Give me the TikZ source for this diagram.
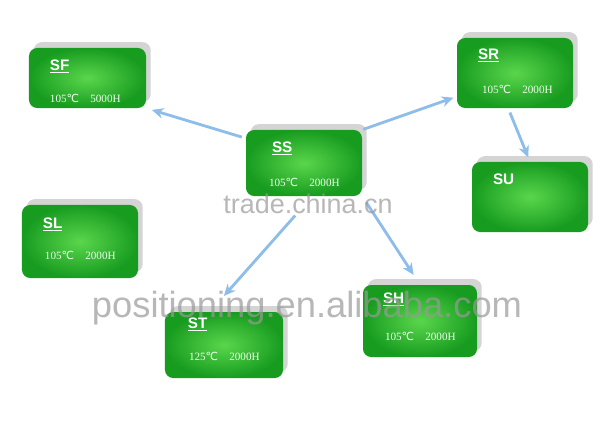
\documentclass[tikz,border=0pt]{standalone}
\usepackage{fontspec}
\setmainfont{Liberation Serif}
\setsansfont{Liberation Sans}
\newfontfamily\degfont{DejaVu Sans}
\usetikzlibrary{shadows,arrows.meta}
\definecolor{boxlight}{HTML}{5AD64C}
\definecolor{boxdark}{HTML}{189C20}
\definecolor{arrowblue}{HTML}{8DBDE8}
\newcommand{\degC}{{\degfont ℃}}

\begin{document}
\begin{tikzpicture}[x=0.03cm, y=-0.03cm,
                    box/.style={rectangle, rounded corners=7pt, minimum width=3.48cm, minimum height=1.98cm,
                                inner color=boxlight, outer color=boxdark,
                                drop shadow={shadow xshift=4pt, shadow yshift=5pt, fill=black!17, opacity=1}},
                    tag/.style={anchor=west, inner sep=0pt, text=white, font=\sffamily\bfseries\fontsize{13}{13}\selectfont},
                    spec/.style={anchor=west, inner sep=0pt, text=green!6, font=\fontsize{9.5}{9.5}\selectfont},
                    stamp/.style={text=black!40, opacity=0.7, inner sep=0pt, anchor=base},
                    every edge/.style={draw, line width=2.4pt, arrowblue, -{Stealth[length=10pt, width=9pt]}}]

                    \fill[white] (0,0) rectangle (615,423);
                    \useasboundingbox (0,0) rectangle (615,423);

                    % Define boxes
                    \node[box, minimum width=3.51cm, minimum height=1.8cm] (SF) at (87.5,78) {}; % upper left
                    \node[box] (SS) at (304,163) {}; % centre
                    \node[box, minimum height=2.1cm] (SR) at (515,73) {}; % upper right
                    \node[box, minimum height=2.1cm] (SU) at (530,197) {}; % below SR
                    \node[box, minimum height=2.19cm] (SL) at (80,241.5) {}; % left
                    \node[box, minimum width=3.54cm] (ST) at (224,345) {}; % lower left
                    \node[box, minimum width=3.42cm, minimum height=2.16cm] (SH) at (420,321) {}; % lower right

                    % Define texts
                    \node[tag] (SFtag) at ([shift={(21,19)}]SF.north west) {\underline{SF}};
                    \node[spec] (SFspec) at ([shift={(21,51)}]SF.north west) {105\degC\quad 5000H};
                    \node[tag] (SStag) at ([shift={(26,19)}]SS.north west) {\underline{SS}};
                    \node[spec] (SSspec) at ([shift={(23,53)}]SS.north west) {105\degC\quad 2000H};
                    \node[tag] (SRtag) at ([shift={(21,18)}]SR.north west) {\underline{SR}};
                    \node[spec] (SRspec) at ([shift={(25,52)}]SR.north west) {105\degC\quad 2000H};
                    \node[tag] (SUtag) at ([shift={(21,17)}]SU.north west) {SU};
                    \node[tag] (SLtag) at ([shift={(21,20)}]SL.north west) {\underline{SL}};
                    \node[spec] (SLspec) at ([shift={(23,51)}]SL.north west) {105\degC\quad 2000H};
                    \node[tag] (STtag) at ([shift={(23,13)}]ST.north west) {\underline{ST}};
                    \node[spec] (STspec) at ([shift={(24,45)}]ST.north west) {125\degC\quad 2000H};
                    \node[tag] (SHtag) at ([shift={(20,15)}]SH.north west) {\underline{SH}};
                    \node[spec] (SHspec) at ([shift={(22,52)}]SH.north west) {105\degC\quad 2000H};

                    % Define edges
                    \path (SS.157) edge[shorten <=3.5pt, shorten >=5pt] (SF.south east);
                    \path (SS.north east) edge[shorten <=1pt, shorten >=3pt] (SR.202);
                    \path (SR.259) edge[shorten <=4pt, shorten >=4pt] (SU.north);
                    \path (SS.284) edge[shorten <=22pt, shorten >=18pt] (ST.113);
                    \path (SS.south east) edge[shorten <=6pt, shorten >=10pt] (SH.north);

                    % Watermarks
                    \node[stamp, font=\sffamily\fontsize{23}{23}\selectfont] (wmtop) at (308,213) {trade.china.cn};
                    \node[stamp, font=\sffamily\fontsize{31}{31}\selectfont] (wmbottom) at (307,317) {positioning.en.alibaba.com};
                \end{tikzpicture}
\end{document}
